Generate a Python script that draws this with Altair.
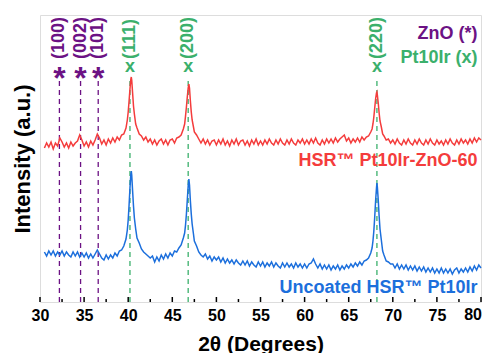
import altair as alt
import pandas as pd
import numpy as np

# 2-theta sampling grid (instrument step 0.25 deg) for the background
two_theta = [round(v, 2) for v in np.arange(30.5, 80.001, 0.25)]

red_vals = [
    154, 159, 155, 160, 153, 159, 156, 164, 160, 155, 159, 154, 160, 156, 159, 161, 167, 162, 156, 160,
    155, 161, 157, 162, 168, 164, 158, 162, 157, 163, 159, 164, 160, 165, 162, 167, 168, 174,
    183, 224, 195, 177, 170, 167, 165,
    162, 165, 160, 163, 158, 162, 157, 161, 163, 158, 162, 157, 162, 163, 159, 164, 165,
    166, 170, 181, 218, 192, 174, 168, 164, 163,
    159, 163, 158, 162, 157, 161, 162,
    157, 162, 158, 163, 157, 161, 156, 162, 158, 163, 157, 161, 162, 157, 161, 156, 162, 158, 163, 157,
    161, 157, 162, 158, 163, 159, 157, 162, 158, 163, 159, 157, 162, 158, 163, 159, 157, 162, 159, 163,
    158, 162, 158, 163, 159, 164, 159, 157, 162, 158, 163, 159, 163, 159, 164, 160, 163, 165, 167, 161,
    164, 159, 163, 160, 164, 160, 165, 162,
    165, 166, 169, 174, 190, 209, 184, 170, 166, 163, 163, 159,
    162, 158, 163, 159, 157, 162, 158, 163, 159, 157, 162, 158, 163, 159, 157, 162, 158, 163, 159, 157,
    162, 158, 161, 157, 162, 158, 163, 159, 157, 162, 158, 163, 159, 162, 158, 163, 159, 164, 160, 164,
    162,
]

blue_vals = [
    50, 46, 51, 47, 51, 46, 50, 47, 51, 46, 50, 47, 45, 50, 46, 50, 45, 49, 45, 49,
    44, 48, 44, 48, 52, 48, 44, 42, 47, 43, 47, 44, 49, 46, 51, 52, 55, 61,
    82, 131, 98, 72, 62, 57, 53,
    50, 48, 46, 44, 46, 40, 45, 41, 47, 43, 48, 44, 49, 46, 51, 50, 54,
    56, 61, 75, 123, 93, 68, 58, 53, 50,
    47, 45, 48, 43, 46, 41, 45,
    42, 45, 40, 44, 39, 43, 39, 42, 38, 42, 39, 37, 41, 37, 41, 36, 40, 37, 35, 40,
    36, 40, 35, 39, 36, 40, 35, 39, 36, 34, 39, 35, 39, 35, 38, 34, 39, 35, 38, 34,
    38, 34, 38, 39, 43, 38, 34, 38, 33, 37, 33, 37, 32, 36, 33, 37, 32, 36, 33, 37,
    34, 38, 35, 39, 36, 40, 37, 41,
    42, 45, 49, 58, 88, 116, 82, 58, 48, 43, 40, 38,
    38, 34, 38, 33, 37, 33, 37, 32, 36, 32, 36, 31, 35, 31, 35, 30, 34, 30, 34, 29,
    33, 29, 34, 29, 33, 29, 33, 28, 32, 34, 29, 33, 30, 34, 30, 35, 31, 36, 32, 37,
    34,
]

# finer readings across the three Pt10Ir reflections
p111_x = [39.5, 39.75, 39.9, 40.0, 40.1, 40.2, 40.3, 40.35, 40.4, 40.5, 40.6, 40.7, 40.85, 41.0, 41.25, 41.5]
p111_red = [168, 174, 182, 190, 201, 213, 223, 225, 222, 209, 196, 188, 178, 174, 168, 166]
p111_blue = [56, 63, 72, 82, 97, 114, 128, 131, 127, 111, 96, 84, 73, 64, 59, 53]
p200_x = [46.0, 46.25, 46.4, 46.5, 46.6, 46.7, 46.8, 46.88, 46.95, 47.05, 47.15, 47.25, 47.4, 47.5, 47.75, 48.0]
p200_red = [167, 173, 178, 186, 195, 205, 214, 218, 214, 201, 190, 182, 175, 170, 167, 163]
p200_blue = [57, 64, 69, 77, 88, 102, 116, 123, 117, 101, 88, 78, 68, 61, 56, 50]
p220_x = [67.25, 67.5, 67.65, 67.75, 67.85, 67.95, 68.05, 68.15, 68.2, 68.25, 68.35, 68.45, 68.55, 68.7, 68.85, 69.0, 69.25]
p220_red = [166, 170, 173, 178, 185, 194, 203, 209, 210, 207, 199, 189, 181, 175, 168, 166, 162]
p220_blue = [44, 49, 54, 61, 71, 85, 101, 114, 119, 115, 102, 86, 73, 62, 51, 47, 41]

zno_peaks = [32.2, 34.6, 36.6]
zno_labels = ["(100)", "(002)", "(101)"]
pt_peaks = [40.2, 46.8, 68.2]
pt_labels = ["(111)", "(200)", "(220)"]

major_ticks = [30, 35, 40, 45, 50, 55, 60, 65, 70, 75, 80]
minor_ticks = [32.5, 37.5, 42.5, 47.5, 52.5, 57.5, 62.5, 67.5, 72.5, 77.5]

RED = "#f43c3c"
BLUE = "#1c6fdc"
PURPLE = "#6c1284"
GREEN = "#3bb06c"
FONT = "Liberation Sans"

n = min(len(two_theta), len(red_vals), len(blue_vals))
grid = pd.DataFrame({"x": two_theta[:n], "red": red_vals[:n], "blue": blue_vals[:n]})
windows = [(39.5, 41.5), (46.0, 48.0), (67.25, 69.25)]
mask = np.zeros(len(grid), dtype=bool)
for lo, hi in windows:
    mask |= (grid["x"] >= lo) & (grid["x"] <= hi)
grid = grid[~mask]
peaks = pd.concat([
    pd.DataFrame({"x": p111_x, "red": p111_red, "blue": p111_blue}),
    pd.DataFrame({"x": p200_x, "red": p200_red, "blue": p200_blue}),
    pd.DataFrame({"x": p220_x, "red": p220_red, "blue": p220_blue}),
])
df = pd.concat([grid, peaks]).sort_values("x").reset_index(drop=True)

xscale = alt.Scale(domain=[30, 80], nice=False, zero=False)
yscale = alt.Scale(domain=[0, 287], nice=False, zero=False)

last_tick = major_ticks[-1]
xaxis = alt.Axis(values=major_ticks, title="2θ (Degrees)", labelFont=FONT, labelFontSize=16,
                 labelFontWeight="bold", labelColor="black", labelPadding=5, labelFlush=False,
                 labelExpr=f"datum.value == {last_tick} ? '' : datum.label",
                 ticks=False, domain=False, grid=False, titleFont=FONT, titleFontSize=21,
                 titleFontWeight="bold", titleColor="black", titlePadding=10)
yaxis = alt.Axis(labels=False, ticks=False, domain=False, grid=False, title="Intensity (a.u.)",
                 titleFont=FONT, titleFontSize=22, titleFontWeight="bold", titleColor="black",
                 titlePadding=6)

base = alt.Chart(df)
red_line = base.mark_line(color=RED, strokeWidth=1.5).encode(
    x=alt.X("x:Q", scale=xscale, axis=xaxis),
    y=alt.Y("red:Q", scale=yscale, axis=yaxis),
    order="x:Q",
)
blue_line = base.mark_line(color=BLUE, strokeWidth=1.5).encode(
    x=alt.X("x:Q", scale=xscale),
    y=alt.Y("blue:Q", scale=yscale),
    order="x:Q",
)

zdf = pd.DataFrame({"x": zno_peaks, "label": zno_labels})
pdf = pd.DataFrame({"x": pt_peaks, "label": pt_labels})

def rules(d, color):
    return alt.Chart(d).mark_rule(color=color, strokeWidth=1.3, strokeDash=[5, 4]).encode(
        x=alt.X("x:Q", scale=xscale), y=alt.datum(0), y2=alt.datum(225))

def labels(d, color):
    return alt.Chart(d).mark_text(color=color, angle=270, align="left", baseline="middle",
                                  font=FONT, fontSize=18, fontWeight="bold").encode(
        x=alt.X("x:Q", scale=xscale), y=alt.datum(243), text="label:N")

def marker(d, color, sym, size, y):
    return alt.Chart(d).mark_text(color=color, align="center", baseline="alphabetic",
                                  font=FONT, fontSize=size, fontWeight="bold", text=sym).encode(
        x=alt.X("x:Q", scale=xscale), y=alt.datum(y))

tdf_major = pd.DataFrame({"x": major_ticks})
tdf_minor = pd.DataFrame({"x": minor_ticks})
ticks_major = alt.Chart(tdf_major).mark_rule(color="black", strokeWidth=1.5).encode(
    x=alt.X("x:Q", scale=xscale), y=alt.datum(0), y2=alt.datum(5))
ticks_minor = alt.Chart(tdf_minor).mark_rule(color="black", strokeWidth=1.5).encode(
    x=alt.X("x:Q", scale=xscale), y=alt.datum(0), y2=alt.datum(3))

# last tick label kept inside the page edge
last_label = alt.Chart(pd.DataFrame({"t": [str(last_tick)]})).mark_text(
    align="right", baseline="top", dx=1, dy=5, font=FONT, fontSize=16, fontWeight="bold", color="black"
).encode(x=alt.datum(last_tick), y=alt.datum(0), text="t:N")

def corner(text, y, color):
    return alt.Chart(pd.DataFrame({"t": [text]})).mark_text(
        color=color, align="right", baseline="middle", font=FONT, fontSize=18, fontWeight="bold"
    ).encode(x=alt.datum(79.6), y=alt.datum(y), text="t:N")

chart = alt.layer(
    rules(zdf, PURPLE), rules(pdf, GREEN),
    red_line, blue_line,
    labels(zdf, PURPLE), labels(pdf, GREEN),
    marker(zdf, PURPLE, "*", 32, 213), marker(pdf, GREEN, "x", 18, 230),
    ticks_major, ticks_minor, last_label,
    corner("ZnO (*)", 268, PURPLE),
    corner("Pt10Ir (x)", 244, GREEN),
    corner("HSR™ Pt10Ir-ZnO-60", 141, RED),
    corner("Uncoated HSR™ Pt10Ir", 14, BLUE),
).properties(
    width=441, height=287,
    autosize=alt.AutoSizeParams(type="none"),
    padding={"left": 32, "top": 7, "right": 2, "bottom": 52},
).configure_view(stroke="black", strokeWidth=2).configure(background="white")

chart.save("out.html", embed_options={"renderer": "svg", "actions": False})
